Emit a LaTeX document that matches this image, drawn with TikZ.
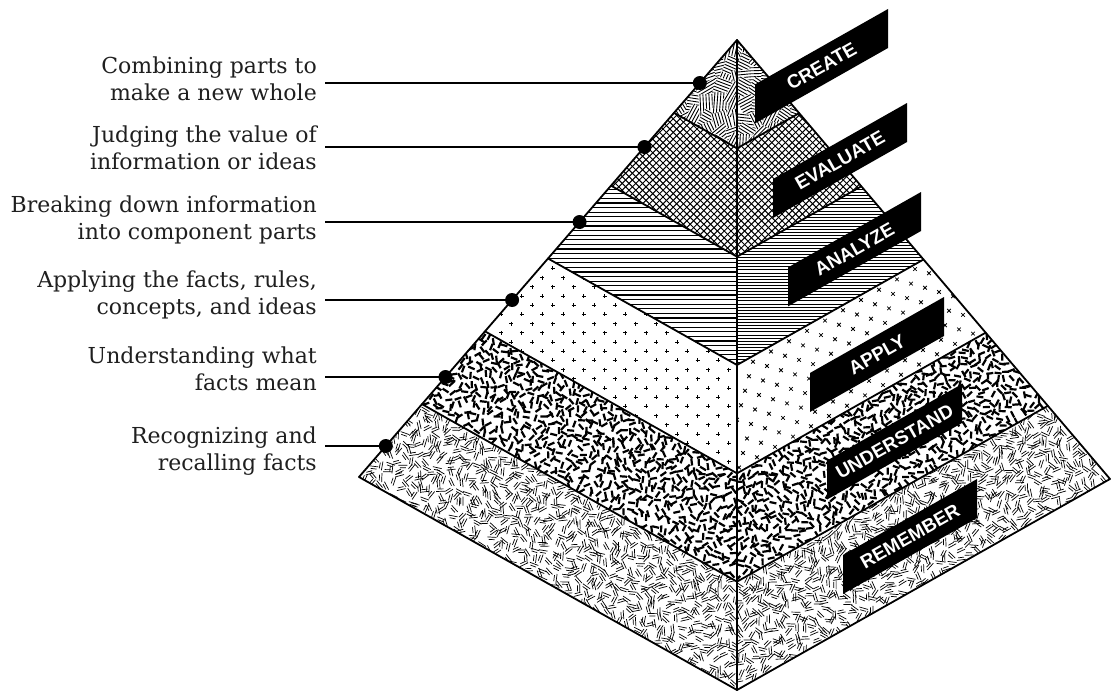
\documentclass[tikz,border=0pt]{standalone}
\usepackage{fontspec}
\setmainfont{DejaVu Serif}
\newfontfamily\bannerfont{Liberation Sans}
\usetikzlibrary{calc}

\newcommand\scatterpts[9]{%
  \foreach \ii in {1,...,#7}{%
    \foreach \jj in {1,...,#8}{%
      \pgfmathsetmacro\puu{(\ii-0.5+0.4*rand)/#7}%
      \pgfmathsetmacro\ptt{#1+(#2-#1)*(\jj-0.5+0.4*rand)/#8}%
      \pgfmathsetmacro\pxx{737+\ptt*((1-\puu)*(#3)+\puu*(#5))}%
      \pgfmathsetmacro\pyy{40+\ptt*((1-\puu)*(#4)+\puu*(#6))}%
      \pgfmathsetmacro\paa{180*rnd}%
      #9}}}

\newcommand\bannerbox[5]{%
  \pgfmathsetmacro\bdrop{0.567*(#2-#1)}%
  \fill[banner] (#1,#3+\bdrop) -- (#2,#3) -- (#2,#3+39) -- (#1,#3+39+\bdrop) -- cycle;
  \node[blabel] (#4) at ({(#1+#2)/2},{#3+\bdrop/2+19.5}) {#5};}

\newcommand\hatchpatch{%
  \begin{scope}[shift={(\pxx,\pyy)},rotate=\paa]
    \fill[white] (-11,-9) rectangle (11,9);
    \foreach \q in {-7.5,-4.5,-1.5,1.5,4.5,7.5} \draw[hatch] (-11,\q) -- (11,\q);
  \end{scope}}

\begin{document}
\begin{tikzpicture}[x=1pt,y=-1pt,
  edge/.style={line width=1.8pt, line join=round, line cap=round},
  desc/.style={anchor=north east, align=right, inner sep=0pt,
    font=\fontsize{22}{27.5}\selectfont, text=black!88},
  dot/.style={circle, fill=black, minimum size=14pt, inner sep=0pt},
  conn/.style={line width=1.6pt},
  banner/.style={fill=black},
  blabel/.style={text=white, font=\bannerfont\bfseries\fontsize{19}{20}\selectfont,
    rotate=29.55, inner sep=0pt},
  thickdash/.style={line width=2.2pt},
  thindash/.style={line width=0.7pt},
  hatch/.style={line width=0.9pt},
  xh/.style={line width=1pt},
  hl/.style={line width=1.2pt},
  hlfine/.style={line width=0.85pt},
  tick/.style={line width=0.8pt},
]
\pgfmathsetseed{7}
\useasboundingbox (0,0) rectangle (1111,693);
\fill[white] (0,0) rectangle (1111,693);

\coordinate (A) at (737,40);
\coordinate (L) at (359,477);
\coordinate (F) at (737,690);
\coordinate (R) at (1110,479);
\foreach \k in {0,...,6}{
  \coordinate (L\k) at ($(A)!\k/6!(L)$);
  \coordinate (F\k) at ($(A)!\k/6!(F)$);
  \coordinate (R\k) at ($(A)!\k/6!(R)$);
}

% ---------- CREATE : patches of parallel hatching
\begin{scope}
  \clip (L0) -- (F0) -- (F1) -- (L1) -- cycle;
  \foreach \ii in {0,...,5}{\foreach \jj in {0,...,8}{
    \pgfmathsetmacro\pxx{668+14*\ii+4*rand}
    \pgfmathsetmacro\pyy{36+14*\jj+4*rand}
    \pgfmathsetmacro\paa{180*rnd}
    \hatchpatch
  }}
\end{scope}
\begin{scope}
  \clip (F0) -- (R0) -- (R1) -- (F1) -- cycle;
  \foreach \ii in {0,...,5}{\foreach \jj in {0,...,8}{
    \pgfmathsetmacro\pxx{733+14*\ii+4*rand}
    \pgfmathsetmacro\pyy{36+14*\jj+4*rand}
    \pgfmathsetmacro\paa{180*rnd}
    \hatchpatch
  }}
\end{scope}

% ---------- EVALUATE : diagonal crosshatch
\begin{scope}
  \clip (L1) -- (F1) -- (R1) -- (R2) -- (F2) -- (L2) -- cycle;
  \foreach \c in {330,336.8,...,780} \draw[xh] (\c+90,90) -- (\c+290,290);
  \foreach \c in {690,696.8,...,1180} \draw[xh] (\c-90,90) -- (\c-290,290);
\end{scope}

% ---------- ANALYZE : horizontal lines
\begin{scope}
  \clip (L2) -- (F2) -- (F3) -- (L3) -- cycle;
  \foreach \yy in {180,184.6,...,372} \draw[hl] (540,\yy) -- (740,\yy);
\end{scope}
\begin{scope}
  \clip (F2) -- (R2) -- (R3) -- (F3) -- cycle;
  \foreach \yy in {180,183.1,...,372} \draw[hlfine] (735,\yy) -- (930,\yy);
\end{scope}

% ---------- APPLY : plus marks (left), x marks (right)
\begin{scope}
  \clip (L3) -- (F3) -- (F4) -- (L4) -- cycle;
  \foreach \r in {0,...,25}{\foreach \cc in {0,...,13}{
    \pgfmathsetmacro\mx{470+20.7*\cc+10.35*mod(\r,2)}
    \pgfmathsetmacro\my{250+9.2*\r}
    \draw[tick] (\mx-2,\my) -- (\mx+2,\my) (\mx,\my-2) -- (\mx,\my+2);
  }}
\end{scope}
\begin{scope}
  \clip (F3) -- (R3) -- (R4) -- (F4) -- cycle;
  \foreach \j in {-4,...,18}{
    \pgfmathtruncatemacro\kz{floor(18*\j/14)-1}
    \foreach \i in {0,...,21}{
      \pgfmathsetmacro\mx{737-18*\j+14*(\i+\kz)}
      \pgfmathsetmacro\my{200+10.3*\j+4.2*(\i+\kz)}
      \draw[tick] (\mx-1.8,\my-1.8) -- (\mx+1.8,\my+1.8) (\mx-1.8,\my+1.8) -- (\mx+1.8,\my-1.8);
  }}
\end{scope}

% ---------- UNDERSTAND : thick random dashes
\begin{scope}
  \clip (L4) -- (F4) -- (F5) -- (L5) -- cycle;
  \scatterpts{0.6667}{0.8333}{-378}{437}{0}{650}{50}{14}{\draw[thickdash] (\pxx,\pyy) ++(\paa:3.5) -- ++(\paa+180:7);}
\end{scope}
\begin{scope}
  \clip (F4) -- (R4) -- (R5) -- (F5) -- cycle;
  \scatterpts{0.6667}{0.8333}{0}{650}{373}{439}{50}{14}{\draw[thickdash] (\pxx,\pyy) ++(\paa:3.5) -- ++(\paa+180:7);}
\end{scope}

% ---------- REMEMBER : thin random dashes
\begin{scope}
  \clip (L5) -- (F5) -- (F6) -- (L6) -- cycle;
  \scatterpts{0.8333}{1}{-378}{437}{0}{650}{50}{13}{\draw[thindash] (\pxx,\pyy) ++(\paa:4.5) -- ++(\paa+180:9) (\pxx,\pyy) ++(\paa+90:2.4) ++(\paa:3) -- ++(\paa+180:6);}
\end{scope}
\begin{scope}
  \clip (F5) -- (R5) -- (R6) -- (F6) -- cycle;
  \scatterpts{0.8333}{1}{0}{650}{373}{439}{50}{13}{\draw[thindash] (\pxx,\pyy) ++(\paa:4.5) -- ++(\paa+180:9) (\pxx,\pyy) ++(\paa+90:2.4) ++(\paa:3) -- ++(\paa+180:6);}
\end{scope}

% ---------- outlines
\foreach \k in {1,...,5} \draw[edge] (L\k) -- (F\k) -- (R\k);
\draw[edge] (A) -- (F);
\draw[edge] (A) -- (L) -- (F) -- (R) -- cycle;

% ---------- banners
\bannerbox{755}{888}{9}{bCreate}{CREATE}
\bannerbox{773}{907}{103}{bEvaluate}{EVALUATE}
\bannerbox{788}{921}{192}{bAnalyze}{ANALYZE}
\bannerbox{810}{944}{297}{bApply}{APPLY}
\bannerbox{827}{962}{384}{bUnderstand}{UNDERSTAND}
\bannerbox{843}{977}{479}{bRemember}{REMEMBER}

% ---------- descriptions
\node[desc] (t1) at (317,56.3) {Combining parts to\\make a new whole};
\node[desc] (t2) at (317,125.3) {Judging the value of\\information or ideas};
\node[desc] (t3) at (317,195.3) {Breaking down information\\into component parts};
\node[desc] (t4) at (317,270.3) {Applying the facts, rules,\\concepts, and ideas};
\node[desc] (t5) at (317,346.3) {Understanding what\\facts mean};
\node[desc] (t6) at (317,426.3) {Recognizing and\\recalling facts};

\node[dot] (d1) at ($(A)!0.0984!(L)$) {};
\node[dot] (d2) at ($(A)!0.2449!(L)$) {};
\node[dot] (d3) at ($(A)!0.4165!(L)$) {};
\node[dot] (d4) at ($(A)!0.5950!(L)$) {};
\node[dot] (d5) at ($(A)!0.7712!(L)$) {};
\node[dot] (d6) at ($(A)!0.9291!(L)$) {};

\foreach \n in {1,...,6}{
  \coordinate (c\n) at ([xshift=8pt]t\n.east);
  \draw[conn] (c\n |- d\n) -- (d\n.center);
}
\end{tikzpicture}
\end{document}
